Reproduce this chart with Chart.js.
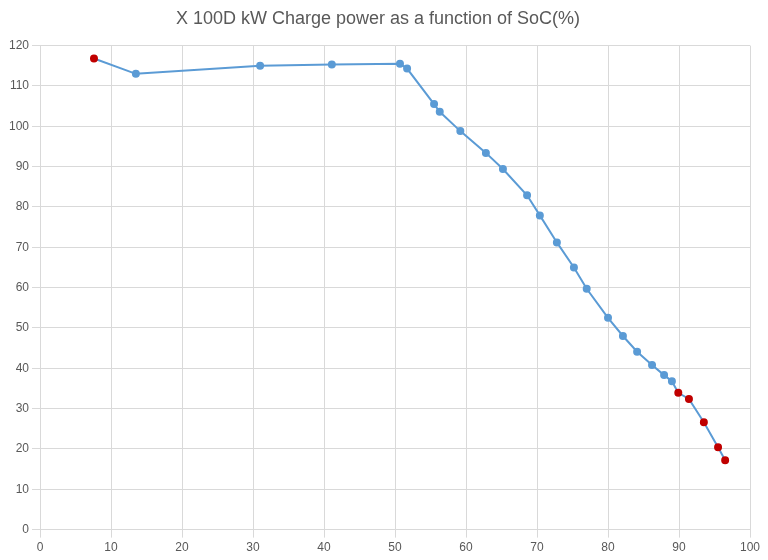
<!DOCTYPE html>
<html><head><meta charset="utf-8">
<script src="https://cdn.jsdelivr.net/npm/chart.js@4"></script>
<style>body{margin:0;background:#fff}#w{width:768px;height:560px}</style>
</head><body><div id="w"><canvas id="c"></canvas></div>
<script>
const soc = [7.6,13.5,31.0,41.1,50.7,51.7,55.5,56.3,59.2,62.8,65.2,68.6,70.4,72.8,75.2,77.0,80.0,82.1,84.1,86.2,87.9,89.0,89.9,91.4,93.5,95.5,96.5];
const power = [116.8,113.0,115.0,115.3,115.5,114.3,105.5,103.6,98.8,93.4,89.4,82.9,77.9,71.2,65.0,59.7,52.5,48.0,44.1,40.8,38.3,36.8,33.9,32.4,26.6,20.4,17.2];
const highlighted = [0,22,23,24,25,26];
const pts = soc.map((x,i)=>({x, y: power[i]}));
const colors = soc.map((_,i)=>highlighted.includes(i)?'#c00000':'#5b9bd5');
new Chart(document.getElementById('c'),{
  type:'scatter',
  data:{datasets:[{data:pts,showLine:true,borderColor:'#5b9bd5',borderWidth:2,
    pointBackgroundColor:colors,pointBorderColor:colors,pointRadius:3}]},
  options:{responsive:true,maintainAspectRatio:false,animation:false,
    layout:{padding:{left:6,right:18,top:2,bottom:2}},
    plugins:{legend:{display:false},
      title:{display:true,text:'X 100D kW Charge power as a function of SoC(%)',color:'#595959',
        font:{family:'Liberation Sans, Arial',size:18,weight:'normal'},padding:{top:6,bottom:16}}},
    scales:{
      x:{type:'linear',min:0,max:100,ticks:{stepSize:10,color:'#595959',font:{size:12}},
        grid:{color:'#d9d9d9'},border:{color:'#d9d9d9'}},
      y:{min:0,max:120,ticks:{stepSize:10,color:'#595959',font:{size:12}},
        grid:{color:'#d9d9d9'},border:{color:'#d9d9d9'}}
    }}
});
</script></body></html>
